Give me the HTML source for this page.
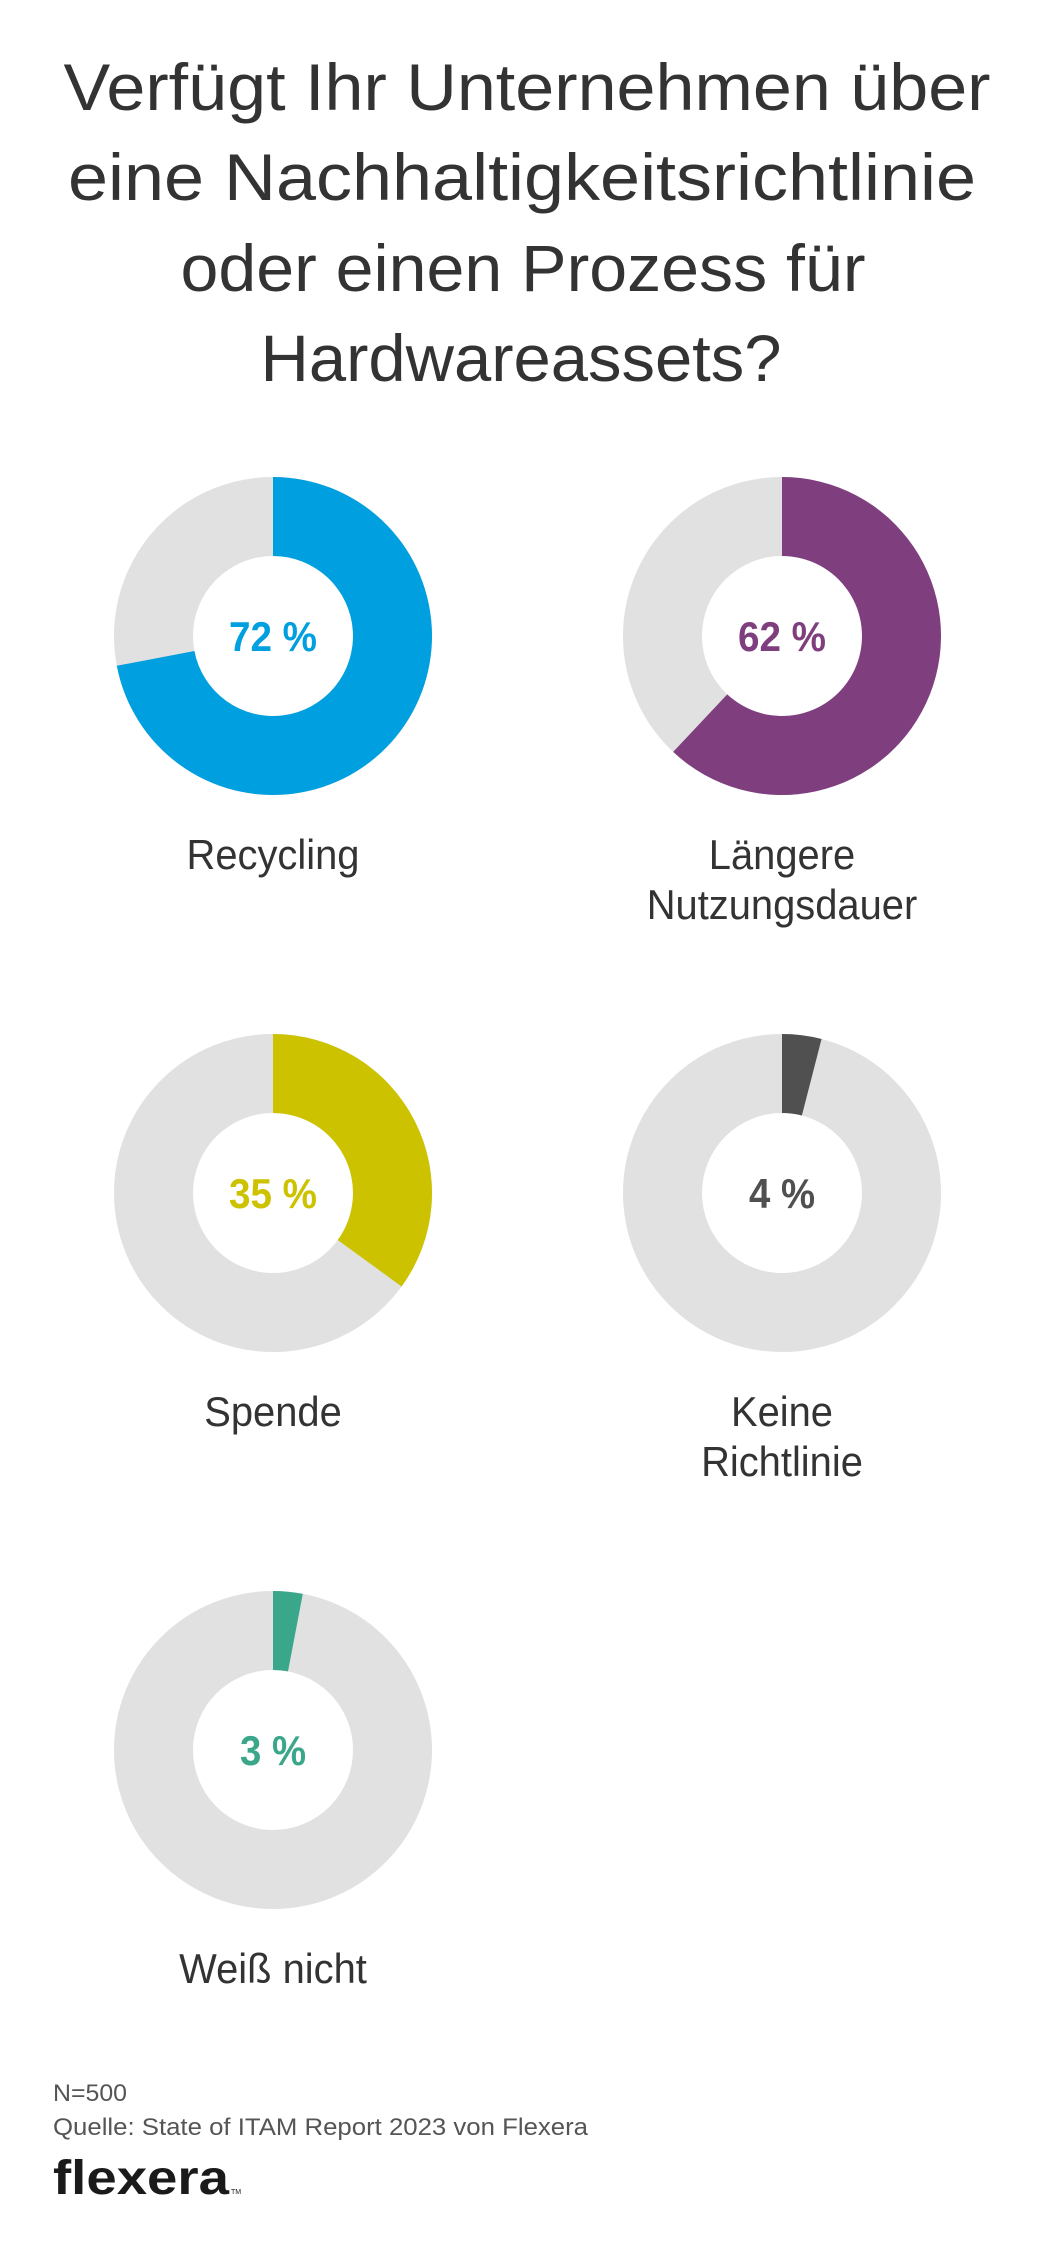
<!DOCTYPE html>
<html><head><meta charset="utf-8">
<style>
html,body{margin:0;padding:0;background:#fff;}
svg{display:block;font-family:"Liberation Sans",sans-serif;}
</style></head>
<body>
<svg id="chart" width="1054" height="2252" viewBox="0 0 1054 2252" xmlns="http://www.w3.org/2000/svg">
  <g fill="#333" font-size="66" text-anchor="middle">
    <text x="527" y="110" textLength="927" lengthAdjust="spacingAndGlyphs">Verfügt Ihr Unternehmen über</text>
    <text x="522" y="200" textLength="908" lengthAdjust="spacingAndGlyphs">eine Nachhaltigkeitsrichtlinie</text>
    <text x="523" y="291" textLength="685" lengthAdjust="spacingAndGlyphs">oder einen Prozess für</text>
    <text x="521" y="381" textLength="521" lengthAdjust="spacingAndGlyphs">Hardwareassets?</text>
  </g>
  <g id="donuts"></g>
  <g fill="#555" font-size="24">
    <text x="53" y="2101" textLength="74" lengthAdjust="spacingAndGlyphs">N=500</text>
    <text x="53" y="2135" textLength="535" lengthAdjust="spacingAndGlyphs">Quelle: State of ITAM Report 2023 von Flexera</text>
  </g>
  <text x="53" y="2194" fill="#1a1a1a" font-size="48" font-weight="bold" textLength="176" lengthAdjust="spacingAndGlyphs">flexera</text>
  <text x="231" y="2194" fill="#1a1a1a" font-size="7">TM</text>
</svg>
<script>
const categories = ["Recycling", "Längere\nNutzungsdauer", "Spende", "Keine\nRichtlinie", "Weiß nicht"];
const values = [72, 62, 35, 4, 3];
const valueLabels = ["72 %", "62 %", "35 %", "4 %", "3 %"];
const colors = ["#009FDF", "#7F3F7E", "#CCC200", "#505050", "#3AA68A"];

const NS = "http://www.w3.org/2000/svg";
const g = document.getElementById("donuts");
const colX = [273, 782];
const rowY = [636, 1193, 1750];
const R = 159, r = 80;
function angle(v){ return v / 100 * 2 * Math.PI; }
function pt(rad, a, cx, cy){ return [cx + rad * Math.sin(a), cy - rad * Math.cos(a)]; }

values.forEach((v, i) => {
  const cx = colX[i % 2], cy = rowY[Math.floor(i / 2)];
  const bg = document.createElementNS(NS, "circle");
  
  
  bg.setAttribute("cx", cx); bg.setAttribute("cy", cy);
  bg.setAttribute("r", (R + r) / 2);
  bg.setAttribute("fill", "none");
  bg.setAttribute("stroke", "#E1E1E1");
  bg.setAttribute("stroke-width", R - r);
  g.appendChild(bg);

  const a = angle(v);
  const large = v > 50 ? 1 : 0;
  const [x1, y1] = pt(R, 0, cx, cy), [x2, y2] = pt(R, a, cx, cy);
  const [x3, y3] = pt(r, a, cx, cy), [x4, y4] = pt(r, 0, cx, cy);
  const p = document.createElementNS(NS, "path");
  
  
  p.setAttribute("d", `M${x1},${y1} A${R},${R} 0 ${large} 1 ${x2},${y2} L${x3},${y3} A${r},${r} 0 ${large} 0 ${x4},${y4} Z`);
  p.setAttribute("fill", colors[i]);
  g.appendChild(p);

  const t = document.createElementNS(NS, "text");
  
  
  t.setAttribute("x", cx); t.setAttribute("y", cy + 15);
  t.setAttribute("text-anchor", "middle");
  t.setAttribute("font-size", "42");
  t.setAttribute("font-weight", "bold");
  t.setAttribute("fill", colors[i]);
  t.setAttribute("textLength", valueLabels[i].length * 22);
  t.setAttribute("lengthAdjust", "spacingAndGlyphs");
  t.textContent = valueLabels[i];
  g.appendChild(t);

  categories[i].split("\n").forEach((line, j) => {
    const l = document.createElementNS(NS, "text");
    
    
    l.setAttribute("x", cx); l.setAttribute("y", cy + 233 + j * 50);
    l.setAttribute("text-anchor", "middle");
    l.setAttribute("font-size", "42");
    l.setAttribute("fill", "#333");
    l.setAttribute("transform", `translate(${cx * 0.05},0) scale(0.95,1)`);
    l.textContent = line;
    g.appendChild(l);
  });
});
</script>
</body></html>
